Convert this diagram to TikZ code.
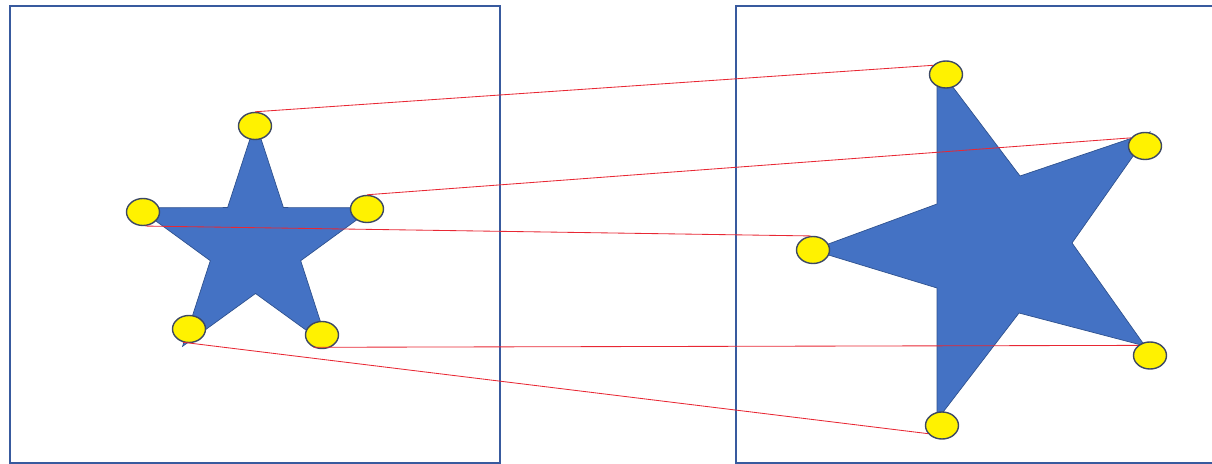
\documentclass[tikz,border=0pt]{standalone}
\usepackage{tikz}
\usetikzlibrary{shapes.geometric}

\definecolor{frameblue}{RGB}{56,90,158}
\definecolor{starblue}{RGB}{68,114,196}
\definecolor{stardark}{RGB}{47,82,143}
\definecolor{dotedge}{RGB}{60,72,100}
\definecolor{linkred}{RGB}{232,40,52}

\begin{document}
\begin{tikzpicture}[x=0.025cm, y=-0.025cm,
    frame/.style={draw=frameblue, line width=1.4pt},
    starshape/.style={fill=starblue, draw=stardark, line width=0.5pt, line join=miter},
    dot/.style={ellipse, draw=dotedge, fill=yellow, line width=1pt,
                minimum width=0.825cm, minimum height=0.675cm, inner sep=0pt},
    link/.style={draw=linkred, line width=0.6pt}]
  \useasboundingbox (0,0) rectangle (1212,464);

  % 外框
  \draw[frame] (10,6) rectangle (500,463);
  \draw[frame] (736,6) rectangle (1230,463);

  % 左边的小星
  \draw[starshape] (255.5,122) -- (283.4,207.6) -- (373.4,207.7) -- (300.7,260.7)
    -- (328.4,346.3) -- (255.5,293.5) -- (182.6,346.3) -- (210.3,260.7)
    -- (137.6,207.7) -- (227.6,207.6) -- cycle;

  % 右边的大星
  \draw[starshape] (937,66) -- (1020,176) -- (1150,132) -- (1072,243)
    -- (1145,346) -- (1019,313) -- (937,420) -- (937,288)
    -- (812,250) -- (937,204) -- cycle;

  % 顶点圆点
  \node[dot] (lt)  at (255,126) {};
  \node[dot] (lr)  at (367,209) {};
  \node[dot] (ll)  at (143,212) {};
  \node[dot] (lbr) at (322,335) {};
  \node[dot] (lbl) at (189,329) {};

  \node[dot] (rt)  at (946,74.5) {};
  \node[dot] (rtr) at (1145,146) {};
  \node[dot] (rl)  at (813,250) {};
  \node[dot] (rbr) at (1150,355.5) {};
  \node[dot] (rb)  at (942,425.5) {};

  % 对应连线
  \draw[link] (lt.north) -- (rt.145);
  \draw[link] (lr.north) -- (rtr.150);
  \draw[link] (ll.-80) -- (rl.100);
  \draw[link] (lbr.235) -- (rbr.140);
  \draw[link] (lbl.245) -- (rb.210);
\end{tikzpicture}
\end{document}
